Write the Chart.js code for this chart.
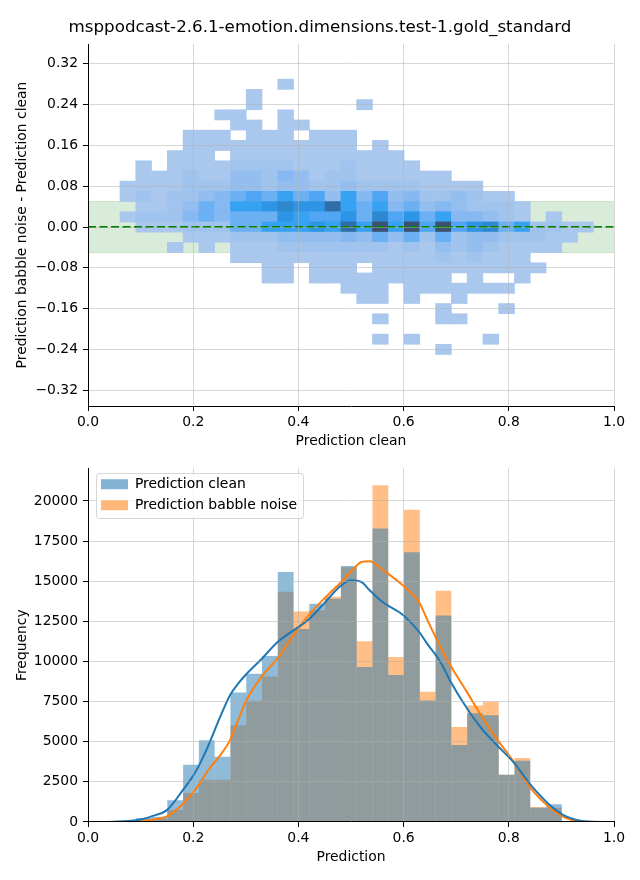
<!DOCTYPE html>
<html lang="en">
<head>
<meta charset="UTF-8">
<title>msppodcast-2.6.1-emotion.dimensions.test-1.gold_standard</title>
<script src="https://cdn.jsdelivr.net/npm/chart.js"></script>
<style>
  html, body { margin: 0; padding: 0; background: #fff; }
  body { width: 640px; height: 880px; position: relative; overflow: hidden; font-family: "DejaVu Sans", sans-serif; }
  #title { position: absolute; left: 0; top: 16px; width: 640px; text-align: center; font-size: 16.7px; line-height: 20px; color: #000; z-index: 2; }
  #wrapTop { position: absolute; left: 0; top: 0; width: 640px; height: 455px; }
  #wrapBottom { position: absolute; left: 0; top: 455px; width: 640px; height: 425px; }
</style>
</head>
<body>
<div id="title">msppodcast-2.6.1-emotion.dimensions.test-1.gold_standard</div>
<div id="wrapTop"><canvas id="top" width="640" height="455"></canvas></div>
<div id="wrapBottom"><canvas id="bottom" width="640" height="425"></canvas></div>
<script>
const FONT = "'DejaVu Sans', sans-serif";

// prediction bins (centres), shared by both panels
const predBins = [0.0758, 0.1058, 0.1358, 0.1658, 0.1958, 0.2258, 0.2558, 0.2858, 0.3158, 0.3458,
                  0.3758, 0.4058, 0.4358, 0.4658, 0.4958, 0.5258, 0.5558, 0.5858, 0.6158, 0.6458,
                  0.6758, 0.7058, 0.7358, 0.7658, 0.7958, 0.8258, 0.8558, 0.8858, 0.9158, 0.9458];

// difference bins (centres), top row first
const diffBinHeight = 0.02;
const diffBins = [0.28, 0.26, 0.24, 0.22, 0.20, 0.18, 0.16, 0.14, 0.12, 0.10, 0.08, 0.06, 0.04, 0.02, 0.00,
                  -0.02, -0.04, -0.06, -0.08, -0.10, -0.12, -0.14, -0.16, -0.18, -0.20, -0.22, -0.24];

// count level per cell ('.' = empty, 1..9, a=10, b=11), one string per diff bin
const heatLevels = [
  "..........1...................",
  "........1.....................",
  "........1......1..............",
  "......11..1...................",
  ".......11.11..................",
  "....111.111.111...............",
  "....11111111111.1.............",
  "...111.11111111111............",
  ".1.1111222211121111...........",
  ".11121133243122111111.........",
  "11112223323322322221111.......",
  "1212234565756374634223211.....",
  ".112354778988a757453432221....",
  "12224545558766859685744321.1..",
  ".1112225577787a7b7b6b689572211",
  "....1112223333435352523322211.",
  "...1.1.111222222212132321111..",
  ".......1111111111111212111....",
  ".........11.111.11111111111...",
  ".........11.111111111.1..1....",
  "..............111.1111111.....",
  "...............11.1..1........",
  "....................1...1.....",
  "................1...11........",
  "..............................",
  "................1.1....1......",
  "....................1........."
];
const levelColors = [null, '#aac8ee', '#a0c4ee', '#94bef0', '#86b8f2', '#6cb0f4', '#50a6f5',
                     '#38a2f2', '#2d94e6', '#2e88d0', '#306eaa', '#3c5070'];

const bandLimit = 0.05;

// histogram counts per prediction bin
const histClean  = [60, 250, 330, 1350, 3570, 5100, 4060, 8060, 9230, 10340,
                    15570, 12020, 13600, 13900, 15950, 9660, 18280, 9150, 16800, 7570,
                    12860, 4800, 6770, 6650, 2950, 3820, 880, 1100, 30, 0];
const histBabble = [20, 90, 200, 740, 1800, 2630, 2630, 6030, 7550, 9070,
                    14340, 13110, 13190, 14030, 15870, 11260, 20980, 10280, 19450, 8120,
                    14400, 5910, 7260, 7490, 2950, 3980, 940, 880, 20, 0];

// density curves (scaled to counts)
const kdeX      = [0, 0.05, 0.1, 0.125, 0.15, 0.18, 0.2, 0.21, 0.23, 0.25, 0.27, 0.285, 0.3, 0.33, 0.36, 0.39, 0.42, 0.45, 0.48,
                   0.5, 0.52, 0.535, 0.56, 0.6, 0.63, 0.645, 0.67, 0.69, 0.72, 0.75, 0.78, 0.81, 0.84, 0.88, 0.91, 0.95, 1.0];
const kdeClean  = [0, 20, 150, 400, 740, 1970, 2890, 3450, 4850, 6450, 7900, 8600, 9170, 10150, 11200, 11920, 12630, 13660, 14700,
                   15060, 14950, 14450, 13700, 12860, 11820, 11100, 9970, 8700, 7100, 5750, 4700, 3680, 2380, 1000, 330, 30, 0];
const kdeBabble = [0, 5, 50, 150, 350, 1100, 1860, 2280, 3300, 4100, 5100, 6300, 7510, 9050, 10180, 11600, 12900, 13950, 14900,
                   15600, 16200, 16250, 15710, 14700, 13660, 12600, 10900, 9700, 8120, 6490, 5050, 3710, 2170, 840, 230, 20, 0];

// tick positions
const predTicks = [0, 0.2, 0.4, 0.6, 0.8, 1.0];
const diffTicks = [-0.32, -0.24, -0.16, -0.08, 0, 0.08, 0.16, 0.24, 0.32];
const freqTicks = [0, 2500, 5000, 7500, 10000, 12500, 15000, 17500, 20000];

const GRID = 'rgba(176,176,176,0.5)';
const TICK_FONT = { family: FONT, size: 13.9 };

function fmt(v, d) {
  const f = Math.pow(10, d);
  const r = Math.round(v * f) / f;
  return (r < 0 ? '\u2212' : '') + Math.abs(r).toFixed(d);
}

function axis(tickValues, extra) {
  return Object.assign({
    type: 'linear',
    offset: false,
    grid: { color: GRID, lineWidth: 1, z: 1, offset: false, tickColor: '#000', tickLength: 5, tickWidth: 1 },
    border: { color: '#000', width: 1, z: 2 },
    afterBuildTicks: s => { s.ticks = tickValues.map(v => ({ value: v })); }
  }, extra);
}

// heatmap cells as floating bars
const heatCells = [];
const heatColors = [];
heatLevels.forEach((row, r) => {
  [...row].forEach((c, k) => {
    if (c === '.') return;
    heatCells.push({ x: predBins[k], y: [diffBins[r] - diffBinHeight / 2, diffBins[r] + diffBinHeight / 2] });
    heatColors.push(levelColors[parseInt(c, 16)]);
  });
});

new Chart(document.getElementById('top'), {
  type: 'bar',
  data: {
    datasets: [
      { type: 'line', label: 'band', data: [{ x: 0, y: bandLimit }, { x: 1, y: bandLimit }],
        borderColor: 'rgba(0,128,0,0.15)', borderWidth: 1, pointRadius: 0,
        backgroundColor: 'rgba(0,128,0,0.15)', fill: '+1', order: 5 },
      { type: 'line', label: 'band low', data: [{ x: 0, y: -bandLimit }, { x: 1, y: -bandLimit }],
        borderColor: 'rgba(0,128,0,0.15)', borderWidth: 1, pointRadius: 0, fill: false, order: 5 },
      { label: 'counts', data: heatCells, backgroundColor: heatColors, borderWidth: 0,
        barPercentage: 1, categoryPercentage: 1, grouped: false, order: 3 },
      { type: 'line', label: 'zero', data: [{ x: 0, y: 0 }, { x: 1, y: 0 }],
        borderColor: '#008000', borderWidth: 2, borderDash: [8, 3.5], pointRadius: 0, fill: false, order: 1 }
    ]
  },
  options: {
    responsive: false,
    animation: false,
    events: [],
    layout: { padding: { left: 0, right: 26, top: 44, bottom: 0 } },
    plugins: { legend: { display: false }, tooltip: { enabled: false } },
    scales: {
      x: axis(predTicks, {
        min: 0, max: 1,
        ticks: { font: TICK_FONT, color: '#000', padding: 3, maxRotation: 0, autoSkip: false,
                 callback: v => fmt(v, 1) },
        title: { display: true, text: 'Prediction clean', font: TICK_FONT, color: '#000', padding: { top: 0, bottom: 5.7 } },
        afterFit: s => { s.height = 49; }
      }),
      y: axis(diffTicks, {
        min: -0.351, max: 0.359,
        ticks: { font: TICK_FONT, color: '#000', padding: 5, callback: v => fmt(v, 2) },
        title: { display: true, text: 'Prediction babble noise - Prediction clean', font: TICK_FONT, color: '#000',
                 padding: { top: 13.6, bottom: 0 } },
        afterFit: s => { s.width = 88; }
      })
    }
  }
});

// legend inside the plot with a matplotlib-like frame
const legendFrame = {
  id: 'legendFrame',
  afterLayout(chart) {
    const L = chart.legend, a = chart.chartArea;
    if (!L || !L.options.display) return;
    L.left = a.left + 6; L.top = a.top + 2; L.right = a.right; L.bottom = a.bottom;
  },
  afterDraw(chart) {
    const L = chart.legend;
    if (!L || !L.options.display) return;
    const ctx = chart.ctx;
    const o = L.options.labels;
    const size = TICK_FONT.size;
    ctx.save();
    ctx.font = size + 'px ' + FONT;
    const textW = Math.max(...L.legendItems.map(it => ctx.measureText(it.text).width));
    const x0 = L.left + o.padding, y0 = L.top + o.padding;
    const boxTop = y0 + (size - o.boxHeight) / 2;
    const left = x0 - 5, top = boxTop - 6;
    const right = x0 + o.boxWidth + size / 2 + textW + 6;
    const bottom = boxTop + (L.legendItems.length - 1) * (size + o.padding) + o.boxHeight + 8;
    ctx.beginPath();
    ctx.roundRect(Math.round(left) + 0.5, Math.round(top) + 0.5, Math.round(right - left), Math.round(bottom - top), 3);
    ctx.fillStyle = 'rgba(255,255,255,0.8)';
    ctx.fill();
    ctx.strokeStyle = 'rgba(204,204,204,0.8)';
    ctx.lineWidth = 1;
    ctx.stroke();
    ctx.restore();
    L.draw();
  }
};

new Chart(document.getElementById('bottom'), {
  type: 'bar',
  data: {
    datasets: [
      { label: 'Prediction clean', data: predBins.map((x, i) => ({ x, y: histClean[i] })),
        backgroundColor: 'rgba(31,119,180,0.5)', borderWidth: 0, inflateAmount: 0,
        barPercentage: 1, categoryPercentage: 1, grouped: false, order: 3 },
      { label: 'Prediction babble noise', data: predBins.map((x, i) => ({ x, y: histBabble[i] })),
        backgroundColor: 'rgba(255,127,14,0.5)', borderWidth: 0, inflateAmount: 0,
        barPercentage: 1, categoryPercentage: 1, grouped: false, order: 4 },
      { type: 'line', label: 'kde clean', data: kdeX.map((x, i) => ({ x, y: kdeClean[i] })),
        borderColor: '#1f77b4', borderWidth: 2, pointRadius: 0, cubicInterpolationMode: 'monotone', fill: false, order: 1 },
      { type: 'line', label: 'kde babble', data: kdeX.map((x, i) => ({ x, y: kdeBabble[i] })),
        borderColor: '#ff7f0e', borderWidth: 2, pointRadius: 0, cubicInterpolationMode: 'monotone', fill: false, order: 2 }
    ]
  },
  options: {
    responsive: false,
    animation: false,
    events: [],
    layout: { padding: { left: 0, right: 26, top: 9, bottom: 0 } },
    plugins: {
      tooltip: { enabled: false },
      legend: {
        position: 'chartArea', align: 'start',
        labels: { boxWidth: 27, boxHeight: 10, padding: 7, color: '#000', font: TICK_FONT,
                  filter: item => item.datasetIndex < 2 }
      }
    },
    scales: {
      x: axis(predTicks, {
        min: 0, max: 1,
        ticks: { font: TICK_FONT, color: '#000', padding: 3, maxRotation: 0, autoSkip: false,
                 callback: v => fmt(v, 1) },
        title: { display: true, text: 'Prediction', font: TICK_FONT, color: '#000', padding: { top: 0, bottom: 14.7 } },
        afterFit: s => { s.height = 58; }
      }),
      y: axis(freqTicks, {
        min: 0, max: 22030,
        ticks: { font: TICK_FONT, color: '#000', padding: 5, callback: v => String(Math.round(v)) },
        title: { display: true, text: 'Frequency', font: TICK_FONT, color: '#000', padding: { top: 13.6, bottom: 0 } },
        afterFit: s => { s.width = 88; }
      })
    }
  },
  plugins: [legendFrame]
});
</script>
</body>
</html>
